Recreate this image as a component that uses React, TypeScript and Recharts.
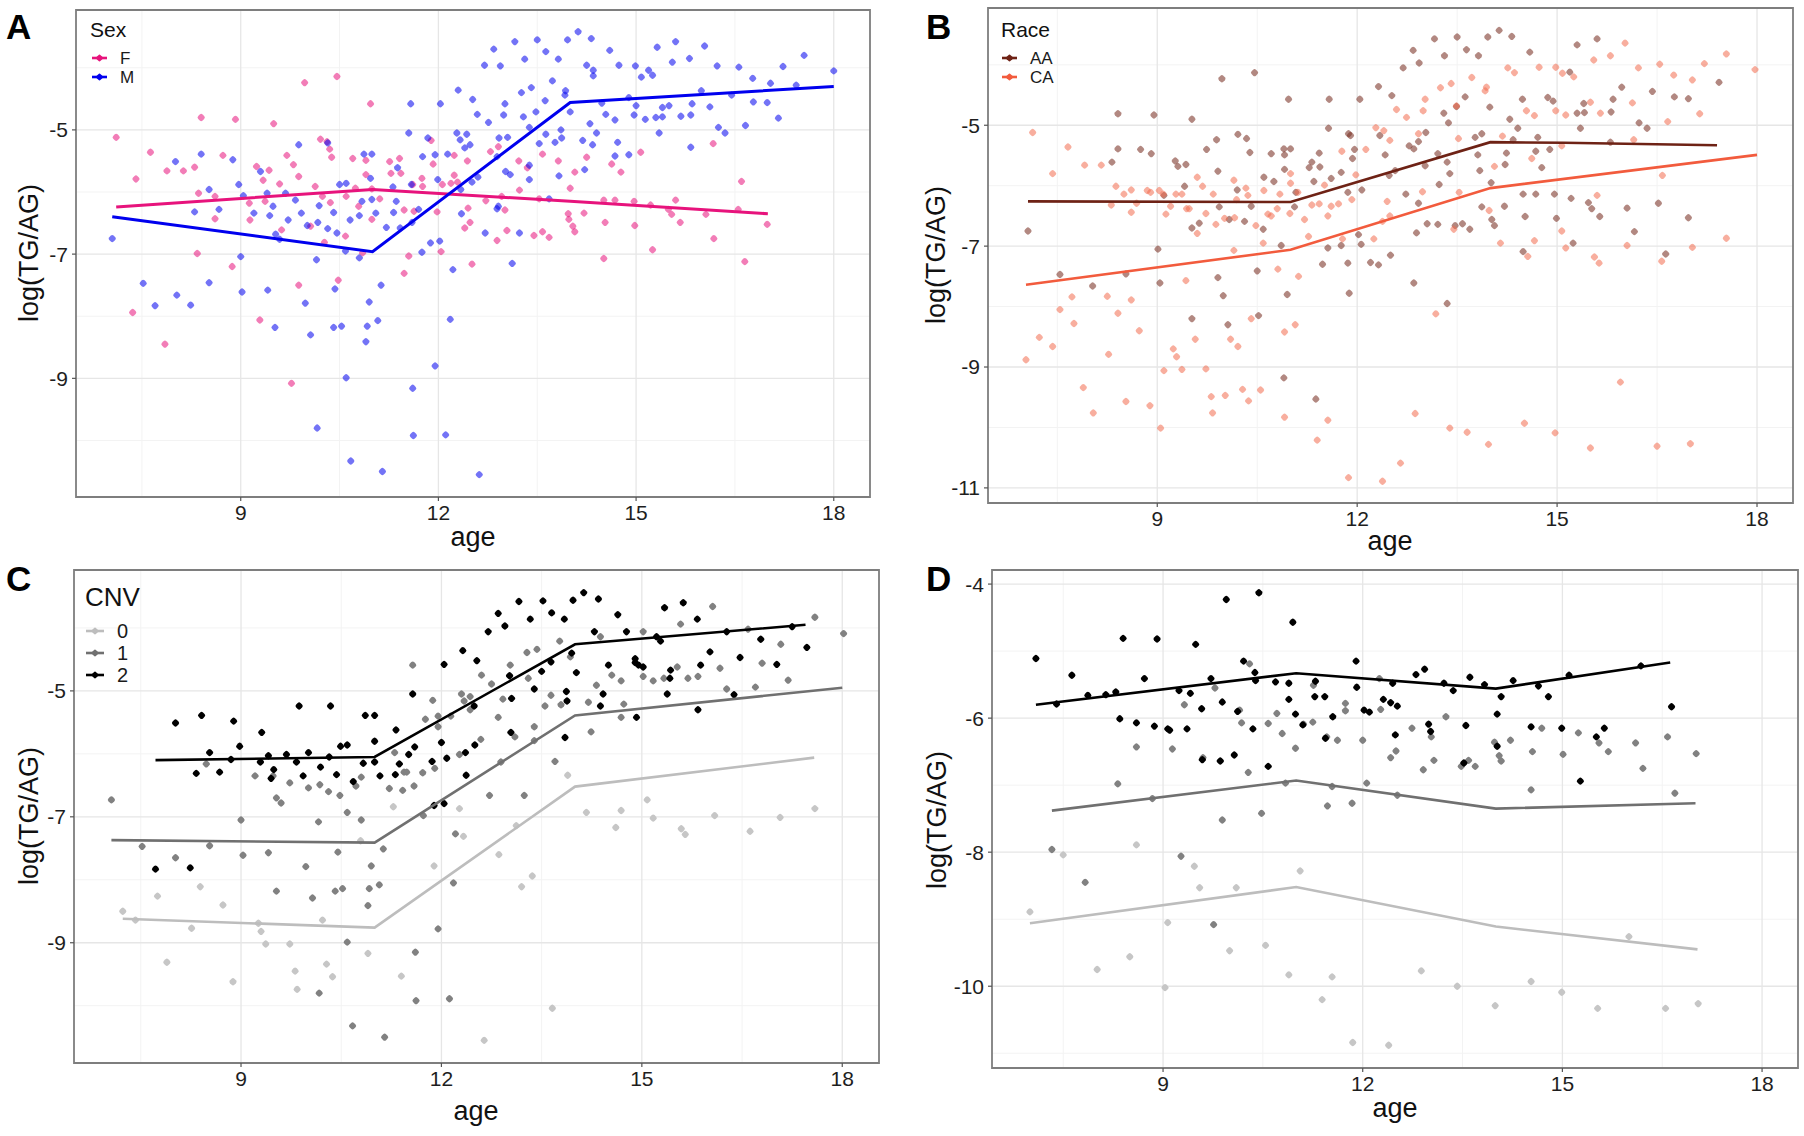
import React from 'react';
import { ComposedChart, Scatter, XAxis, YAxis, CartesianGrid, ReferenceArea } from 'recharts';

type Pt = [number, number];

const FONT = '"Liberation Sans", Arial, Helvetica, sans-serif';

// ---- axis ticks ----
const ageTicks = [9, 12, 15, 18];
const ageMinor = [7.5, 10.5, 13.5, 16.5];
const yTicksA = [-9, -7, -5];
const yMinorA = [-10, -8, -6, -4];
const yTicksB = [-11, -9, -7, -5];
const yMinorB = [-10, -8, -6, -4];
const yTicksC = [-9, -7, -5];
const yMinorC = [-10, -8, -6, -4];
const yTicksD = [-10, -8, -6, -4];
const yMinorD = [-11, -9, -7, -5];

// ---- Panel A : Sex ----
const sexF: Pt[] = [
  [7.11,-5.12],[7.41,-5.79],[7.63,-5.36],[7.88,-5.66],[8.13,-5.66],[8.30,-5.60],[8.36,-6.02],[8.40,-4.80],[8.61,-6.07],[8.61,-6.43],
  [8.73,-5.41],[8.92,-4.83],[9.13,-6.18],[9.14,-6.45],[9.24,-5.59],[9.34,-5.81],[9.37,-6.15],[9.43,-5.65],[9.50,-4.90],[9.59,-5.87],
  [9.62,-6.61],[9.70,-5.41],[9.80,-5.56],[9.88,-5.75],[9.97,-4.24],[10.06,-6.55],[10.13,-5.91],[10.21,-5.15],[10.24,-6.07],[10.31,-5.19],
  [10.35,-5.31],[10.38,-5.44],[10.36,-6.17],[10.46,-4.14],[10.60,-6.07],[10.59,-6.71],[10.70,-5.46],[10.74,-5.94],[10.79,-6.23],[10.90,-5.49],
  [10.90,-5.72],[10.97,-4.58],[10.99,-5.95],[10.99,-6.44],[11.11,-6.11],[11.26,-5.51],[11.28,-5.70],[11.41,-5.46],[11.43,-5.70],[11.48,-6.29],
  [11.61,-5.88],[11.63,-6.31],[11.75,-5.78],[11.76,-5.91],[8.34,-6.99],[8.87,-7.20],[7.36,-7.94],[7.85,-8.45],[9.29,-8.06],[9.77,-9.08],
  [9.88,-7.50],[10.48,-7.42],[11.55,-7.03],[11.48,-7.31],[10.27,-6.81],[10.85,-6.98],
  [11.89,-5.17],[11.92,-5.55],[12.24,-5.41],[12.44,-5.50],[12.79,-5.35],[12.91,-5.27],[13.22,-5.50],[13.35,-5.61],[13.58,-5.39],[13.82,-5.50],
  [14.07,-5.68],[14.25,-5.44],[14.63,-5.55],[14.77,-5.68],[15.07,-5.36],[16.17,-5.22],[16.60,-5.83],[12.04,-6.96],[11.98,-6.32],[12.51,-7.16],
  [12.45,-6.26],[12.40,-6.58],[12.48,-6.49],[12.72,-6.14],[12.89,-6.78],[13.01,-6.29],[13.04,-6.62],[12.96,-6.07],[13.23,-5.97],[13.45,-6.70],
  [13.58,-6.64],[13.68,-6.73],[13.53,-6.11],[13.97,-6.35],[14.00,-5.94],[13.98,-6.44],[14.04,-6.55],[14.07,-6.64],[14.21,-6.34],[14.51,-6.13],
  [14.53,-6.49],[14.51,-7.07],[14.68,-6.13],[14.97,-6.15],[14.98,-6.54],[15.22,-6.21],[15.25,-6.93],[15.49,-6.28],[15.54,-6.36],[15.60,-6.13],
  [15.67,-6.49],[16.06,-6.36],[16.18,-6.75],[16.55,-6.28],[16.65,-7.12],[16.99,-6.52],[12.24,-5.73],[12.29,-5.84],[12.06,-5.88],[12.19,-5.86],
];
const sexM: Pt[] = [
  [7.05,-6.75],[7.52,-7.47],[7.70,-7.83],[8.03,-7.66],[8.24,-7.82],[8.01,-5.51],[8.30,-6.32],[8.40,-5.39],[8.52,-5.96],[8.52,-7.46],
  [8.67,-6.28],[8.88,-5.48],[8.97,-5.88],[9.00,-7.04],[9.02,-7.61],[9.04,-6.06],[9.20,-6.34],[9.30,-5.67],[9.40,-6.02],[9.41,-7.58],
  [9.44,-6.38],[9.49,-6.23],[9.52,-8.18],[9.53,-6.68],[9.59,-6.76],[9.68,-6.02],[9.72,-6.45],[9.83,-6.13],[9.88,-5.24],[9.92,-6.34],
  [9.98,-7.79],[10.01,-6.54],[10.06,-8.30],[10.15,-7.09],[10.17,-6.49],[10.19,-6.22],[10.32,-6.59],[10.32,-5.21],[10.41,-6.33],[10.41,-8.18],
  [10.43,-7.56],[10.46,-6.66],[10.50,-5.88],[10.53,-8.16],[10.59,-6.95],[10.60,-8.99],[10.60,-5.86],[10.66,-6.45],[10.67,-10.33],[10.80,-6.38],
  [10.80,-7.06],[10.84,-6.15],[10.87,-5.39],[10.90,-8.41],[10.92,-8.16],[10.95,-7.77],[10.97,-5.78],[10.99,-5.39],[10.99,-6.12],[11.05,-6.34],
  [11.08,-8.07],[11.13,-7.50],[11.15,-10.50],[11.21,-6.57],[11.31,-5.92],[11.32,-6.33],[11.36,-6.15],[11.38,-5.61],[11.42,-6.58],[11.58,-4.58],
  [11.55,-5.05],[11.61,-9.16],[11.62,-9.92],[11.59,-5.88],[11.60,-6.49],[11.70,-6.28],[11.75,-6.97],[11.76,-5.43],[11.84,-5.13],[10.16,-9.80],
  [11.88,-6.82],[12.02,-6.79],[11.95,-8.80],[12.18,-8.05],[12.11,-9.91],[12.62,-10.55],[12.22,-7.25],[12.35,-6.35],[12.30,-4.36],[12.03,-4.58],
  [12.14,-5.39],[11.95,-5.40],[12.28,-5.05],[12.33,-5.16],[12.43,-5.07],[12.40,-5.29],[12.48,-5.24],[12.52,-4.51],[12.59,-4.75],[12.60,-5.76],
  [12.51,-5.84],[12.34,-5.96],[12.70,-3.96],[12.76,-4.88],[12.84,-3.70],[12.94,-3.97],[12.92,-5.13],[13.05,-5.12],[13.01,-4.58],[12.99,-4.76],
  [13.02,-5.67],[13.09,-5.72],[13.16,-3.58],[13.26,-4.40],[13.31,-3.86],[13.29,-4.79],[13.38,-4.96],[13.41,-4.32],[13.48,-4.71],[13.50,-3.55],
  [13.53,-5.22],[13.38,-5.57],[13.38,-5.80],[13.62,-4.53],[13.63,-3.74],[13.63,-5.07],[13.73,-4.21],[13.77,-5.20],[13.82,-3.86],[13.86,-5.00],
  [13.87,-5.13],[13.83,-5.74],[13.92,-4.44],[13.93,-4.37],[13.96,-3.55],[14.00,-4.71],[14.12,-3.42],[14.19,-5.17],[14.22,-5.64],[14.25,-3.96],
  [14.32,-3.53],[14.35,-4.04],[14.35,-4.13],[14.30,-4.90],[14.34,-5.24],[14.40,-5.05],[14.48,-4.57],[14.54,-4.75],[14.60,-3.72],[14.68,-4.84],
  [14.72,-5.20],[14.68,-5.42],[14.74,-3.96],[14.89,-5.40],[14.89,-4.48],[14.97,-4.76],[14.99,-3.97],[15.00,-4.61],[15.08,-4.15],[15.14,-4.83],
  [15.19,-4.04],[15.25,-4.12],[15.30,-4.80],[15.32,-3.67],[15.35,-5.05],[15.40,-4.64],[15.40,-4.79],[15.50,-4.61],[15.55,-3.91],[15.60,-3.58],
  [15.68,-4.78],[15.81,-3.85],[15.83,-4.76],[15.83,-5.28],[15.85,-4.58],[15.99,-4.37],[16.04,-3.65],[16.12,-4.63],[16.23,-3.97],[16.25,-4.96],
  [16.35,-5.05],[16.45,-4.44],[16.56,-3.99],[16.66,-4.93],[16.77,-4.17],[16.78,-4.55],[16.99,-4.56],[17.04,-4.25],[17.16,-4.81],[17.23,-3.98],
  [17.43,-4.28],[17.55,-3.80],[18.00,-4.05],[12.71,-6.66],[13.12,-7.15],[13.23,-6.66],[12.89,-6.27],[12.91,-6.23],[13.68,-6.11],[11.99,-5.80],
  [12.89,-5.43],
];
const lineF: Pt[] = [[7.11,-6.24],[11,-5.96],[14,-6.15],[17,-6.35]];
const lineM: Pt[] = [[7.05,-6.40],[11,-6.96],[14,-4.56],[18,-4.30]];

// ---- Panel B : Race ----
const raceAA: Pt[] = [
  [7.06,-6.75],[7.54,-7.47],[8.03,-7.66],[8.32,-5.61],[8.41,-4.81],[8.41,-5.39],[8.53,-7.46],[8.75,-5.40],[8.91,-5.47],[8.95,-4.83],
  [9.01,-7.05],[9.04,-7.61],[9.10,-6.16],[9.27,-5.59],[9.31,-5.68],[9.41,-6.01],[9.43,-5.65],[9.52,-4.90],[9.52,-6.70],[9.52,-8.20],
  [9.63,-6.62],[9.74,-5.40],[9.89,-5.24],[9.91,-5.76],[9.93,-6.35],[9.91,-7.52],[9.97,-4.23],[9.99,-7.82],[10.06,-8.30],[10.08,-6.56],
  [10.20,-6.07],[10.21,-5.15],[10.31,-6.59],[10.34,-5.22],[10.39,-5.45],[10.41,-6.34],[10.46,-4.13],[10.50,-7.41],[10.52,-8.15],[10.59,-6.72],
  [10.60,-5.86],[10.71,-5.47],[10.75,-5.93],[10.86,-6.99],[10.90,-5.39],[10.91,-5.73],[10.91,-5.49],[10.90,-9.18],[10.95,-7.80],[10.97,-4.57],
  [11.00,-5.39],[11.06,-6.35],[11.08,-6.11],[11.28,-5.70],[11.32,-5.61],[11.35,-5.93],[11.38,-9.53],[11.43,-5.46],[11.44,-5.69],[11.48,-7.30],
  [11.56,-7.03],[11.57,-5.05],[11.58,-4.57],[11.61,-5.88],[11.76,-5.78],[11.76,-6.99],[11.86,-7.28],[11.88,-7.78],[11.87,-5.14],[11.90,-5.17],
  [11.86,-6.11],[11.96,-5.40],[11.93,-5.55],
  [12.04,-4.57],[12.07,-6.07],[12.02,-6.81],[12.06,-6.97],[12.20,-7.27],[12.32,-4.36],[12.34,-5.17],[12.42,-5.49],[12.32,-7.31],[12.48,-5.83],
  [12.50,-7.15],[12.52,-4.51],[12.57,-5.75],[12.69,-4.05],[12.73,-6.14],[12.78,-5.34],[12.84,-3.76],[12.85,-5.39],[12.85,-7.61],[12.89,-6.78],
  [12.92,-6.29],[12.93,-3.97],[12.92,-5.27],[13.02,-5.67],[13.03,-5.12],[13.05,-6.63],[13.16,-3.57],[13.21,-5.47],[13.21,-6.64],[13.23,-5.98],
  [13.30,-4.80],[13.31,-3.85],[13.35,-7.95],[13.35,-5.61],[13.37,-4.96],[13.39,-5.80],[13.47,-6.66],[13.49,-4.69],[13.50,-3.54],[13.58,-6.63],
  [13.62,-4.53],[13.64,-3.75],[13.69,-6.72],[13.82,-3.85],[13.81,-5.49],[13.84,-5.75],[13.77,-5.20],[13.87,-5.14],[13.87,-6.35],[13.96,-3.54],
  [13.99,-4.70],[14.01,-5.95],[14.02,-6.56],[14.06,-6.66],[14.13,-3.43],[14.21,-6.34],[14.22,-5.65],[14.24,-5.46],[14.29,-4.90],[14.32,-3.53],
  [14.34,-5.24],[14.41,-5.05],[14.48,-4.57],[14.49,-6.14],[14.52,-6.51],[14.49,-7.09],[14.59,-3.79],[14.68,-5.43],[14.68,-6.14],[14.71,-5.20],
  [14.77,-5.70],[14.86,-4.54],[14.89,-5.40],[14.94,-4.60],[14.96,-6.14],[14.99,-6.54],[15.19,-4.12],[15.21,-6.21],[15.24,-6.95],[15.30,-3.67],
  [15.30,-4.80],[15.35,-5.05],[15.40,-4.64],[15.41,-4.79],[15.47,-6.28],[15.52,-6.38],[15.60,-3.57],[15.64,-6.51],[15.80,-5.28],[15.81,-4.78],
  [15.84,-4.57],[15.97,-4.37],[16.05,-6.37],[16.16,-6.76],[16.23,-4.96],[16.35,-5.05],[16.43,-4.44],[16.52,-6.29],[16.63,-7.13],[16.76,-4.53],
  [16.97,-4.56],[16.97,-6.53],[17.43,-4.29],
];
const raceCA: Pt[] = [
  [7.13,-5.12],[7.43,-5.80],[7.66,-5.36],[7.91,-5.66],[8.16,-5.66],[8.38,-6.01],[8.50,-6.14],[8.61,-6.07],[8.31,-6.32],[8.61,-6.44],
  [8.69,-6.29],[8.85,-6.08],[8.90,-6.11],[9.03,-6.08],[9.09,-6.14],[9.13,-6.47],[9.20,-6.34],[9.28,-6.14],[9.37,-6.14],[9.44,-6.38],
  [9.48,-6.38],[9.60,-5.86],[9.60,-6.79],[9.68,-6.01],[9.73,-6.46],[9.84,-6.14],[9.88,-6.64],[10.01,-6.54],[10.15,-5.91],[10.16,-6.53],
  [10.19,-6.23],[10.33,-6.04],[10.36,-6.16],[10.48,-6.66],[10.59,-6.95],[10.60,-6.08],[10.66,-6.47],[10.71,-6.50],[10.80,-6.38],[10.84,-6.14],
  [11.00,-5.80],[11.00,-5.96],[10.99,-6.46],[11.11,-6.11],[11.21,-6.56],[11.27,-6.84],[11.32,-6.32],[11.43,-6.30],[11.51,-5.99],[11.56,-6.50],
  [11.61,-6.34],[11.72,-6.30],[11.77,-5.43],[11.78,-6.88],[11.92,-6.23],[11.98,-5.82],[10.15,-7.07],[10.81,-7.38],[11.12,-7.50],[9.43,-7.57],
  [11.07,-8.30],[10.91,-8.42],[10.41,-8.20],[8.25,-7.83],[8.41,-8.11],[8.61,-7.89],[7.72,-7.84],[7.54,-8.05],[7.75,-8.28],[8.73,-8.40],
  [9.57,-8.54],[7.23,-8.51],[7.43,-8.66],[7.03,-8.88],[8.27,-8.79],[9.24,-8.70],[9.29,-8.83],[9.10,-9.06],[9.37,-9.04],[9.73,-9.03],
  [10.10,-8.54],[10.21,-8.66],[7.89,-9.34],[8.04,-9.76],[8.53,-9.57],[8.89,-9.64],[9.05,-10.01],[9.81,-9.49],[9.83,-9.76],[10.02,-9.47],
  [10.28,-9.37],[10.37,-9.56],[10.55,-9.38],[10.91,-9.83],[11.40,-10.21],[11.56,-9.88],[11.87,-10.83],
  [12.13,-5.40],[12.28,-5.04],[12.40,-5.09],[12.49,-5.25],[12.45,-6.26],[12.49,-6.50],[12.38,-6.59],[12.25,-6.88],[12.59,-4.74],[12.74,-4.87],
  [12.92,-5.14],[12.98,-6.10],[12.99,-4.76],[13.02,-4.57],[13.25,-4.38],[13.41,-4.31],[13.49,-4.68],[13.52,-5.22],[13.53,-6.11],[13.45,-6.72],
  [13.72,-4.21],[13.92,-4.43],[13.94,-4.37],[13.98,-6.41],[14.06,-5.68],[14.18,-5.18],[14.15,-6.95],[14.26,-4.05],[14.36,-4.13],[14.54,-4.76],
  [14.62,-5.55],[14.66,-4.84],[14.66,-6.91],[14.73,-4.04],[14.56,-7.17],[14.98,-4.04],[14.98,-4.76],[15.07,-5.34],[15.07,-6.75],[15.08,-4.14],
  [15.13,-4.83],[15.13,-7.03],[15.25,-4.20],[15.50,-4.62],[15.55,-3.92],[15.56,-7.18],[15.63,-7.28],[15.60,-6.16],[15.65,-4.80],[15.80,-3.85],
  [16.02,-3.64],[16.05,-6.99],[16.13,-4.63],[16.15,-5.24],[16.22,-4.05],[16.54,-3.99],[16.58,-5.83],[16.57,-7.25],[16.66,-4.94],[16.75,-4.17],
  [17.03,-4.25],[17.03,-7.02],[17.14,-4.81],[17.21,-3.98],[17.54,-3.82],[17.54,-6.87],[17.97,-4.08],[13.18,-8.12],[15.95,-9.25],[12.87,-9.77],
  [13.39,-10.01],[13.65,-10.08],[13.97,-10.28],[14.51,-9.93],[14.97,-10.09],[15.50,-10.34],[16.50,-10.31],[17.00,-10.27],[12.65,-10.59],[12.38,-10.89],
];
const lineAA: Pt[] = [[7.06,-6.26],[11,-6.27],[14,-5.28],[15.1,-5.29],[17.4,-5.33]];
const lineCA: Pt[] = [[7.03,-7.64],[11,-7.06],[14,-6.04],[18,-5.49]];

// ---- Panel C : CNV ----
const cnv2C: Pt[] = [
  [7.72,-7.83],[8.24,-7.81],[8.02,-5.51],[8.41,-5.39],[8.53,-5.98],[8.33,-6.31],[8.68,-6.29],[8.89,-5.48],[8.85,-6.09],[8.98,-5.88],
  [9.31,-5.66],[9.29,-6.13],[9.41,-6.03],[9.45,-6.39],[9.49,-6.25],[9.68,-6.01],[9.83,-6.13],[9.87,-5.24],[9.93,-6.35],[10.01,-5.98],
  [10.19,-6.21],[10.32,-6.05],[10.34,-5.24],[10.43,-6.33],[10.49,-5.88],[10.59,-5.86],[10.68,-6.44],[10.83,-6.15],[10.86,-5.39],[11.00,-5.39],
  [11.00,-5.80],[11.00,-6.13],[11.08,-6.35],[11.32,-5.62],[11.31,-6.33],[11.37,-6.16],[11.51,-6.01],[11.57,-5.05],[11.60,-5.89],
  [11.86,-6.12],[11.89,-6.82],[12.04,-6.79],[12.00,-5.82],[12.04,-4.58],[12.08,-6.07],[12.32,-4.36],[12.36,-5.98],[12.37,-6.34],[12.50,-5.86],
  [12.49,-5.24],[12.53,-4.52],[12.70,-4.06],[12.85,-3.77],[12.95,-3.97],[13.02,-4.76],[13.05,-5.12],[13.04,-5.66],[13.16,-3.58],[13.33,-3.86],
  [13.39,-4.97],[13.50,-4.69],[13.52,-3.57],[13.64,-4.54],[13.65,-3.76],[13.84,-3.86],[13.85,-5.74],[13.87,-5.01],[13.88,-5.16],[13.97,-3.56],
  [13.95,-4.40],[14.02,-4.71],[14.13,-3.44],[14.29,-4.06],[14.35,-3.54],[14.38,-5.24],[14.42,-5.05],[14.50,-4.59],[14.64,-3.79],[14.77,-4.06],
  [14.90,-4.49],[14.90,-4.55],[14.95,-4.59],[15.02,-4.62],[14.92,-5.42],[15.22,-4.14],[15.28,-4.21],[15.34,-3.68],[15.38,-5.05],[15.43,-4.67],
  [15.42,-4.80],[15.62,-3.60],[15.83,-3.86],[15.84,-5.30],[15.88,-4.59],[16.02,-4.38],[16.27,-4.06],[16.38,-5.06],[16.47,-4.47],[16.78,-4.18],
  [17.02,-4.58],[17.25,-3.98],[17.47,-4.31],
];
const cnv1C: Pt[] = [
  [7.06,-6.73],[7.52,-7.47],[8.02,-7.65],[8.48,-6.16],[8.53,-7.46],[9.00,-7.05],[9.03,-7.61],[9.21,-6.35],[9.41,-7.57],[9.48,-6.35],
  [9.53,-6.70],[9.60,-6.78],[9.53,-8.18],[9.73,-6.46],[9.97,-7.79],[10.01,-6.54],[10.07,-8.29],[10.17,-9.80],[10.16,-7.08],[10.18,-6.49],
  [10.31,-6.60],[10.41,-8.18],[10.45,-7.56],[10.48,-6.66],[10.52,-8.14],[10.59,-6.93],[10.59,-8.99],[10.67,-10.32],[10.72,-6.51],[10.80,-6.37],
  [10.80,-7.05],[10.90,-8.41],[10.92,-8.14],[10.95,-7.78],[11.07,-8.08],[11.13,-7.51],[11.15,-10.50],[11.22,-6.55],[11.30,-5.98],[11.42,-6.58],
  [11.44,-6.29],[11.48,-6.29],[11.59,-6.51],[11.57,-4.59],[11.61,-9.15],[11.62,-9.92],[11.72,-6.30],[11.73,-6.98],[11.76,-5.45],
  [11.87,-5.15],[11.90,-6.23],[11.95,-5.40],[11.95,-5.57],[12.14,-5.40],[12.27,-6.01],[12.30,-5.05],[12.34,-5.16],[12.43,-5.09],[12.43,-5.30],
  [12.60,-4.75],[12.59,-5.77],[12.75,-4.89],[12.85,-5.42],[12.89,-6.13],[12.92,-5.13],[13.03,-4.59],[13.10,-5.73],[13.28,-4.39],[13.30,-4.80],
  [13.43,-4.34],[13.39,-5.57],[13.39,-5.79],[13.55,-5.24],[13.64,-5.07],[13.70,-6.12],[13.77,-4.21],[13.79,-5.22],[13.93,-4.46],[14.20,-5.18],
  [14.24,-5.65],[14.32,-4.91],[14.38,-4.14],[14.55,-4.75],[14.69,-4.84],[14.69,-5.42],[14.73,-5.21],[15.02,-4.06],[15.02,-4.77],[15.17,-4.84],
  [15.33,-4.80],[15.53,-4.62],[15.58,-3.94],[15.69,-4.80],[15.84,-4.77],[16.06,-3.66],[16.17,-4.64],[16.27,-4.97],[16.59,-4.02],[16.70,-4.94],
  [16.80,-4.56],[17.08,-4.26],[17.19,-4.83],[17.59,-3.83],[18.02,-4.09],[13.24,-6.66],[12.72,-6.66],[12.21,-7.27],[12.18,-8.05],[11.95,-8.78],
  [12.12,-9.89],
];
const cnv0C: Pt[] = [
  [7.23,-8.50],[7.42,-8.64],[7.75,-8.26],[7.89,-9.31],[8.26,-8.77],[8.39,-8.11],[8.73,-8.40],[8.88,-9.62],[9.26,-8.69],[9.30,-8.82],
  [9.37,-9.02],[9.73,-9.02],[9.81,-9.45],[9.84,-9.74],[10.22,-8.64],[10.28,-9.34],[10.37,-9.54],[10.79,-7.38],[10.90,-9.17],[11.28,-6.84],
  [11.40,-9.53],[11.89,-7.78],[12.27,-6.87],[12.33,-7.31],[12.86,-7.60],[13.12,-7.14],[13.20,-8.11],[13.36,-7.94],[13.89,-6.34],[13.66,-10.04],
  [12.64,-10.55],[14.17,-6.93],[14.61,-7.17],[14.69,-6.90],[15.08,-6.73],[15.17,-7.02],[15.59,-7.19],[15.65,-7.28],[16.09,-6.98],[16.62,-7.23],
  [17.07,-7.01],[17.59,-6.87],
];
const line2C: Pt[] = [[7.72,-6.10],[11,-6.05],[14,-4.26],[17.45,-3.95]];
const line1C: Pt[] = [[7.06,-7.37],[11,-7.41],[14,-5.39],[18,-4.95]];
const line0C: Pt[] = [[7.23,-8.62],[11,-8.76],[14,-6.52],[17.58,-6.06]];

// ---- Panel D ----
const cnv2D: Pt[] = [
  [7.09,-5.11],[7.40,-5.79],[7.63,-5.36],[7.87,-5.66],[8.14,-5.65],[8.29,-5.61],[8.35,-6.01],[8.40,-4.81],[8.60,-6.07],[8.72,-5.41],
  [8.87,-6.12],[8.91,-4.82],[9.07,-6.16],[9.10,-6.18],[9.24,-5.59],[9.36,-6.16],[9.41,-5.63],[9.49,-4.90],[9.58,-5.86],[9.59,-6.62],
  [9.72,-5.41],[9.86,-6.64],[9.89,-5.76],[9.95,-4.23],[10.07,-6.55],[10.12,-5.90],[10.21,-5.15],[10.35,-6.16],[10.38,-5.32],[10.39,-5.44],
  [10.44,-4.13],[10.58,-6.72],[10.69,-5.46],[10.89,-5.48],[10.89,-5.72],[10.95,-4.57],[10.99,-5.94],[11.10,-6.10],[11.28,-5.68],[11.29,-5.45],
  [11.43,-5.68],[11.44,-6.30],[11.55,-5.98],[11.90,-5.15],[11.91,-5.54],[12.02,-5.88],[12.10,-5.91],[12.31,-5.72],[12.42,-5.77],[12.52,-5.82],
  [12.45,-5.48],[12.49,-6.25],[12.80,-5.35],[12.93,-5.27],[12.99,-6.09],[13.02,-6.20],[13.22,-5.48],[13.36,-5.59],[13.52,-6.67],[13.55,-6.11],
  [13.61,-5.39],[13.83,-5.50],[14.02,-5.94],[14.02,-6.42],[14.08,-5.68],[14.26,-5.44],[14.53,-6.13],[14.64,-5.52],[14.79,-5.68],[14.99,-6.15],
  [15.10,-5.36],[15.27,-6.94],[15.51,-6.28],[15.63,-6.15],[16.18,-5.22],[16.64,-5.83],
];
const cnv1D: Pt[] = [
  [7.33,-7.96],[7.83,-8.45],[8.32,-6.98],[8.60,-6.43],[8.84,-7.20],[9.14,-6.46],[9.27,-8.06],[9.32,-5.80],[9.60,-6.59],[9.78,-5.55],
  [9.76,-9.08],[9.89,-7.52],[10.15,-5.88],[10.18,-6.07],[10.28,-6.81],[10.30,-5.19],[10.48,-7.42],[10.58,-6.08],[10.71,-5.93],[10.79,-6.23],
  [10.84,-6.97],[10.99,-6.45],[11.11,-6.09],[11.25,-6.06],[11.26,-5.51],[11.46,-6.28],[11.47,-7.31],[11.54,-7.02],[11.62,-6.33],[11.74,-5.89],
  [11.74,-5.78],[11.84,-7.27],[12.00,-6.33],[12.06,-6.97],[12.25,-5.41],[12.27,-5.87],[12.42,-6.59],[12.50,-6.49],[12.52,-7.15],[12.74,-6.15],
  [12.91,-6.77],[13.03,-6.28],[13.07,-6.63],[13.25,-5.98],[13.48,-6.72],[13.59,-6.63],[13.69,-6.72],[13.98,-6.36],[14.05,-6.56],[14.08,-6.64],
  [14.22,-6.33],[14.53,-7.07],[14.55,-6.50],[14.69,-6.15],[15.01,-6.54],[15.24,-6.22],[15.55,-6.37],[15.69,-6.50],[16.10,-6.37],[16.21,-6.75],
  [16.58,-6.28],[16.69,-7.12],[17.01,-6.53],
];
const cnv0D: Pt[] = [
  [7.00,-8.89],[7.50,-8.04],[8.01,-9.75],[8.50,-9.56],[8.60,-7.89],[9.03,-10.02],[9.07,-9.05],[9.47,-8.21],[9.55,-8.53],[10.00,-9.47],
  [10.10,-8.53],[10.54,-9.39],[10.89,-9.83],[11.06,-8.28],[11.39,-10.20],[11.54,-9.86],[11.85,-10.84],[12.88,-9.77],[13.42,-10.00],[13.99,-10.29],
  [14.53,-9.93],[14.99,-10.09],[15.53,-10.33],[16.00,-9.26],[16.55,-10.33],[17.04,-10.26],[12.39,-10.88],
];
const line2D: Pt[] = [[7.09,-5.80],[11,-5.33],[14,-5.56],[16.62,-5.17]];
const line1D: Pt[] = [[7.33,-7.38],[11,-6.93],[14,-7.35],[17,-7.27]];
const line0D: Pt[] = [[7.0,-9.06],[11,-8.52],[14,-9.11],[17.03,-9.45]];

// ---- colours ----
const C_F = '#E7137C';
const C_M = '#0000EE';
const C_AA = '#6E2215';
const C_AApt = '#7A3226';
const C_CA = '#F25B3D';
const C_CApt = '#F26B4F';
const C_0 = '#BDBDBD';
const C_0pt = '#C6C6C6';
const C_1 = '#707070';
const C_1pt = '#818181';
const C_2 = '#000000';

const rows = (pts: Pt[]) => pts.map(([x, y]) => ({ x, y }));

const makeDot = (fill: string, op: number) => (props: any) => {
  const { cx, cy } = props;
  if (cx == null || cy == null || isNaN(cx) || isNaN(cy)) return <g />;
  const s = 6.2;
  return (
    <rect x={cx - s / 2} y={cy - s / 2} width={s} height={s} rx={2.0}
      transform={`rotate(45 ${cx} ${cy})`} fill={fill} fillOpacity={op} />
  );
};
const noShape = () => <g />;

type PtSeries = { pts: Pt[]; color: string; op: number };
type LnSeries = { pts: Pt[]; color: string; w: number };

interface PanelProps {
  left: number; top: number; right: number; bottom: number;
  xDomain: [number, number]; yDomain: [number, number];
  yTicks: number[]; yMinor: number[];
  points: PtSeries[]; lines: LnSeries[];
}

const YW = 70, MT = 5, MR = 6, MB = 4, XH = 40;
const tickStyle = { fill: '#1e1e1e', fontSize: 21, fontFamily: FONT };

function Panel(p: PanelProps) {
  const pw = p.right - p.left;
  const ph = p.bottom - p.top;
  return (
    <div style={{ position: 'absolute', left: p.left - YW, top: p.top - MT }}>
      <ComposedChart width={pw + YW + MR} height={ph + MT + MB + XH}
        margin={{ top: MT, right: MR, bottom: MB, left: 0 }}>
        <CartesianGrid horizontalValues={p.yMinor} verticalValues={ageMinor}
          stroke="#F3F3F3" strokeWidth={1} />
        <CartesianGrid horizontalValues={p.yTicks} verticalValues={ageTicks}
          stroke="#E6E6E6" strokeWidth={1.3} />
        <XAxis type="number" dataKey="x" domain={p.xDomain} ticks={ageTicks} allowDataOverflow
          height={XH} axisLine={false} tickSize={4} tickMargin={4} interval={0}
          tick={tickStyle} tickLine={{ stroke: '#555', strokeWidth: 1.2 }} />
        <YAxis type="number" dataKey="y" domain={p.yDomain} ticks={p.yTicks} allowDataOverflow
          width={YW} axisLine={false} tickSize={4} tickMargin={4} interval={0}
          tick={tickStyle} tickLine={{ stroke: '#555', strokeWidth: 1.2 }} />
        {p.points.map((s, i) => (
          <Scatter key={'p' + i} data={rows(s.pts)} fill={s.color}
            shape={makeDot(s.color, s.op)} isAnimationActive={false} />
        ))}
        {p.lines.map((l, i) => (
          <Scatter key={'l' + i} data={rows(l.pts)} fill={l.color}
            line={{ stroke: l.color, strokeWidth: l.w }} shape={noShape}
            isAnimationActive={false} />
        ))}
        <ReferenceArea x1={p.xDomain[0]} x2={p.xDomain[1]} y1={p.yDomain[0]} y2={p.yDomain[1]}
          fill="none" fillOpacity={0} stroke="#7E7E7E" strokeWidth={1.8} ifOverflow="visible" />
      </ComposedChart>
    </div>
  );
}

function LegendKey({ x, y, color, label, fs, len }: { x: number; y: number; color: string; label: string; fs: number; len: number }) {
  const mid = x + len / 2;
  return (
    <g>
      <line x1={x} y1={y} x2={x + len} y2={y} stroke={color} strokeWidth={2.6} />
      <rect x={mid - 2.8} y={y - 2.8} width={5.6} height={5.6} rx={1.6}
        transform={`rotate(45 ${mid} ${y})`} fill={color} />
      <text x={x + len + 13} y={y + fs * 0.36} fontSize={fs} fontFamily={FONT} fill="#1a1a1a">{label}</text>
    </g>
  );
}

export default function App() {
  return (
    <div style={{ position: 'absolute', left: 0, top: 0, width: 1804, height: 1136, background: '#fff', overflow: 'hidden' }}>
      <Panel left={76} top={10} right={870} bottom={497}
        xDomain={[6.5, 18.55]} yDomain={[-10.91, -3.07]} yTicks={yTicksA} yMinor={yMinorA}
        points={[{ pts: sexF, color: C_F, op: 0.55 }, { pts: sexM, color: C_M, op: 0.55 }]}
        lines={[{ pts: lineF, color: C_F, w: 3 }, { pts: lineM, color: C_M, w: 3 }]} />
      <Panel left={988} top={8} right={1793} bottom={503}
        xDomain={[6.46, 18.54]} yDomain={[-11.25, -3.06]} yTicks={yTicksB} yMinor={yMinorB}
        points={[{ pts: raceAA, color: C_AApt, op: 0.58 }, { pts: raceCA, color: C_CApt, op: 0.55 }]}
        lines={[{ pts: lineAA, color: C_AA, w: 2.6 }, { pts: lineCA, color: C_CA, w: 2.6 }]} />
      <Panel left={74} top={570} right={879} bottom={1063}
        xDomain={[6.5, 18.55]} yDomain={[-10.91, -3.08]} yTicks={yTicksC} yMinor={yMinorC}
        points={[{ pts: cnv0C, color: C_0pt, op: 1 }, { pts: cnv1C, color: C_1pt, op: 1 }, { pts: cnv2C, color: C_2, op: 1 }]}
        lines={[{ pts: line0C, color: C_0, w: 2.6 }, { pts: line1C, color: C_1, w: 2.6 }, { pts: line2C, color: C_2, w: 2.6 }]} />
      <Panel left={992} top={570} right={1798} bottom={1068}
        xDomain={[6.43, 18.54]} yDomain={[-11.22, -3.79]} yTicks={yTicksD} yMinor={yMinorD}
        points={[{ pts: cnv0D, color: C_0pt, op: 1 }, { pts: cnv1D, color: C_1pt, op: 1 }, { pts: cnv2D, color: C_2, op: 1 }]}
        lines={[{ pts: line0D, color: C_0, w: 2.6 }, { pts: line1D, color: C_1, w: 2.6 }, { pts: line2D, color: C_2, w: 2.6 }]} />

      <svg width={1804} height={1136} style={{ position: 'absolute', left: 0, top: 0, pointerEvents: 'none' }}>
        <g fontFamily={FONT} fontWeight="bold" fontSize={35} fill="#000">
          <text x={6} y={39}>A</text>
          <text x={926} y={39}>B</text>
          <text x={6} y={591}>C</text>
          <text x={926} y={591}>D</text>
        </g>
        <g fontFamily={FONT} fontSize={27} fill="#111" textAnchor="middle">
          <text transform="translate(38,253) rotate(-90)">log(TG/AG)</text>
          <text transform="translate(945,255) rotate(-90)">log(TG/AG)</text>
          <text transform="translate(38,816) rotate(-90)">log(TG/AG)</text>
          <text transform="translate(946,820) rotate(-90)">log(TG/AG)</text>
          <text x={473} y={546}>age</text>
          <text x={1390} y={550}>age</text>
          <text x={476} y={1120}>age</text>
          <text x={1395} y={1117}>age</text>
        </g>
        <text x={90} y={37} fontFamily={FONT} fontSize={21} fill="#111">Sex</text>
        <LegendKey x={92} y={58} color={C_F} label="F" fs={17} len={15} />
        <LegendKey x={92} y={77} color={C_M} label="M" fs={17} len={15} />
        <text x={1001} y={37} fontFamily={FONT} fontSize={21} fill="#111">Race</text>
        <LegendKey x={1002} y={58} color={C_AA} label="AA" fs={17} len={15} />
        <LegendKey x={1002} y={77} color={C_CA} label="CA" fs={17} len={15} />
        <text x={85} y={606} fontFamily={FONT} fontSize={26} fill="#111">CNV</text>
        <LegendKey x={86} y={631} color={C_0} label="0" fs={20} len={18} />
        <LegendKey x={86} y={653} color={C_1} label="1" fs={20} len={18} />
        <LegendKey x={86} y={675} color={C_2} label="2" fs={20} len={18} />
      </svg>
    </div>
  );
}
